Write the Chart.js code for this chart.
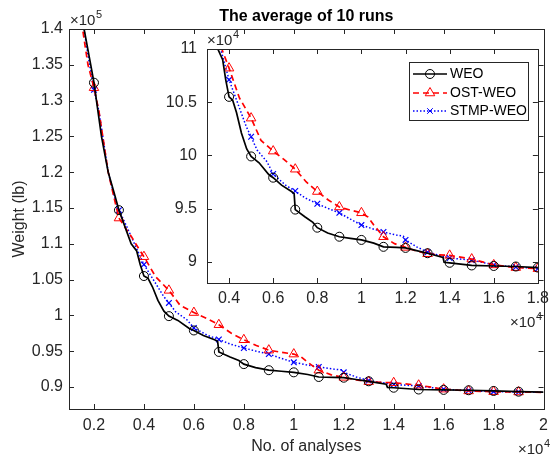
<!DOCTYPE html>
<html>
<head>
<meta charset="utf-8">
<script src="https://cdn.jsdelivr.net/npm/chart.js@4.4.1/dist/chart.umd.min.js"></script>
<style>
  html, body { margin: 0; padding: 0; background: #fff; }
  #wrap { position: relative; width: 555px; height: 461px; }
  #wrap canvas { position: absolute; left: 0; top: 0; }
</style>
</head>
<body>
<div id="wrap">
  <canvas id="chart-main" width="555" height="461"></canvas>
  <canvas id="chart-inset" width="555" height="461"></canvas>
</div>
<script>
// values (x = number of analyses, y = weight in lb)
const WEO_X = [1550, 1870, 2000, 2100, 2300, 2570, 2800, 3000, 3250, 3490, 3710, 3850, 4000, 4160, 4340, 4560, 4800, 5000, 5360, 5800, 6000, 6380, 6830, 6950, 7000, 7450, 7800, 8000, 8470, 9000, 9500, 10000, 10560, 11000, 11590, 12000, 12500, 13000, 13700, 13750, 14000, 15000, 16000, 17000, 18000, 19000, 20000];
const WEO_Y = [141000, 135000, 132500, 130000, 125000, 120000, 117200, 114700, 112300, 110000, 109000, 107100, 105500, 105200, 104000, 102100, 100600, 99900, 99300, 98200, 97900, 97200, 96600, 96400, 94900, 94200, 93700, 93200, 92700, 92350, 92200, 92050, 91750, 91400, 91350, 91300, 91050, 90800, 90400, 89950, 89900, 89650, 89600, 89550, 89450, 89350, 89300];

const OST_X = [1500, 1760, 2000, 2200, 2570, 2800, 3000, 3300, 3500, 3670, 4000, 4470, 5000, 5450, 6000, 6500, 7000, 7500, 8000, 8500, 9000, 9500, 10000, 10300, 10560, 11000, 11500, 12000, 12500, 13000, 13500, 14000, 15000, 16000, 17000, 18000, 19000, 20000];
const OST_Y = [141000, 135000, 131800, 128500, 120000, 116500, 113600, 112000, 111000, 110000, 108200, 105400, 103500, 101400, 100400, 99600, 98700, 97500, 96600, 95800, 95150, 94850, 94600, 94200, 93450, 92350, 91700, 91350, 91000, 90750, 90650, 90600, 90250, 89700, 89450, 89350, 89300, 89250];

const STMP_X = [1550, 1800, 2000, 2200, 2570, 2800, 3000, 3300, 3620, 4000, 4340, 4780, 5000, 5270, 5720, 6000, 6560, 7000, 7450, 8000, 8500, 9000, 9500, 10000, 10500, 11000, 11590, 11900, 12000, 12500, 13000, 14000, 15000, 16000, 17000, 18000, 19000, 20000];
const STMP_Y = [141000, 135500, 131500, 128500, 120000, 116800, 114700, 112500, 110000, 107100, 105200, 102700, 101750, 100500, 99400, 98250, 97200, 96650, 96000, 95450, 95000, 94600, 94000, 93450, 93100, 92800, 92500, 92400, 92050, 91400, 90900, 90350, 90150, 89700, 89500, 89350, 89300, 89250];

// x positions that carry a marker
const MARKER_X = [2000, 3000, 4000, 5000, 6000, 7000, 8000, 9000, 10000, 11000, 12000, 13000, 14000, 15000, 16000, 17000, 18000, 19000];

// tick values
const MAIN_X_TICKS = [2000, 4000, 6000, 8000, 10000, 12000, 14000, 16000, 18000, 20000];
const MAIN_Y_TICKS = [90000, 95000, 100000, 105000, 110000, 115000, 120000, 125000, 130000, 135000, 140000];
const INSET_X_TICKS = [4000, 6000, 8000, 10000, 12000, 14000, 16000, 18000];
const INSET_Y_TICKS = [90000, 95000, 100000, 105000, 110000];

const AXIS = "#262626";
const FONT = "'Liberation Sans', Arial, Helvetica, sans-serif";

const fmt = (v) => String(+v.toFixed(2));
const pts = (xs, ys) => xs.map((x, i) => ({ x, y: ys[i] }));
const markerR = (r) => (ctx) => (ctx.raw && MARKER_X.includes(ctx.raw.x) ? r : 0);

function makeDatasets() {
  return [
    {
      label: "WEO",
      data: pts(WEO_X, WEO_Y),
      borderColor: "#000000",
      borderWidth: 1.7,
      pointStyle: "circle",
      pointRadius: markerR(4.5),
      pointBorderColor: "#000000",
      pointBackgroundColor: "rgba(0,0,0,0)",
      pointBorderWidth: 1,
      tension: 0,
    },
    {
      label: "OST-WEO",
      data: pts(OST_X, OST_Y),
      borderColor: "#ff0000",
      borderWidth: 1.7,
      borderDash: [6, 4],
      pointStyle: "triangle",
      pointRadius: markerR(5.5),
      pointBorderColor: "#ff0000",
      pointBackgroundColor: "rgba(0,0,0,0)",
      pointBorderWidth: 1,
      tension: 0,
    },
    {
      label: "STMP-WEO",
      data: pts(STMP_X, STMP_Y),
      borderColor: "#0000ff",
      borderWidth: 1.5,
      borderDash: [1.5, 2],
      pointStyle: "crossRot",
      pointRadius: markerR(4),
      pointBorderColor: "#0000ff",
      pointBackgroundColor: "rgba(0,0,0,0)",
      pointBorderWidth: 1.2,
      tension: 0,
    },
  ];
}

// axes box with inward tick marks (MATLAB look)
const frame = {
  id: "frame",
  beforeDatasetsDraw(chart, args, opts) {
    if (!opts.fill) return;
    const { ctx, chartArea: a } = chart;
    ctx.save();
    ctx.fillStyle = "#ffffff";
    ctx.fillRect(a.left, a.top, a.right - a.left, a.bottom - a.top);
    ctx.restore();
  },
  afterDatasetsDraw(chart) {
    const { ctx, chartArea: a, scales } = chart;
    const len = 5;
    ctx.save();
    ctx.strokeStyle = AXIS;
    ctx.lineWidth = 1;
    ctx.beginPath();
    scales.x.ticks.forEach((t) => {
      const px = Math.round(scales.x.getPixelForValue(t.value)) + 0.5;
      ctx.moveTo(px, a.bottom); ctx.lineTo(px, a.bottom - len);
      ctx.moveTo(px, a.top); ctx.lineTo(px, a.top + len);
    });
    scales.y.ticks.forEach((t) => {
      const py = Math.round(scales.y.getPixelForValue(t.value)) + 0.5;
      ctx.moveTo(a.left, py); ctx.lineTo(a.left + len, py);
      ctx.moveTo(a.right, py); ctx.lineTo(a.right - len, py);
    });
    ctx.stroke();
    ctx.strokeRect(Math.round(a.left) + 0.5, Math.round(a.top) + 0.5, Math.round(a.right - a.left), Math.round(a.bottom - a.top));
    ctx.restore();
  },
};

// "×10^n" exponent labels
function drawExp(ctx, x, y, n) {
  ctx.font = `15px ${FONT}`;
  ctx.fillStyle = AXIS;
  ctx.textAlign = "left";
  ctx.textBaseline = "alphabetic";
  ctx.fillText("\u00d710", x, y);
  const w = ctx.measureText("\u00d710").width;
  ctx.font = `11px ${FONT}`;
  ctx.fillText(n, x + w + 0.5, y - 7);
}

const mainTexts = {
  id: "mainTexts",
  afterDraw(chart) {
    const { ctx, chartArea: a } = chart;
    ctx.save();
    ctx.fillStyle = "#000";
    ctx.font = `bold 16px ${FONT}`;
    ctx.textAlign = "center";
    ctx.textBaseline = "middle";
    ctx.fillText("The average of 10 runs", (a.left + a.right) / 2, 17);

    ctx.fillStyle = AXIS;
    ctx.font = `16px ${FONT}`;
    ctx.fillText("No. of analyses", (a.left + a.right) / 2, 447);

    ctx.translate(20, (a.top + a.bottom) / 2);
    ctx.rotate(-Math.PI / 2);
    ctx.fillText("Weight (lb)", 0, 0);
    ctx.restore();

    ctx.save();
    drawExp(ctx, 70, 25, "5");
    drawExp(ctx, 518, 454, "4");
    ctx.restore();
  },
};

function drawMarker(ctx, style, x, y, color) {
  ctx.strokeStyle = color;
  ctx.lineWidth = 1;
  ctx.setLineDash([]);
  ctx.beginPath();
  if (style === "circle") {
    ctx.arc(x, y, 4.5, 0, Math.PI * 2);
  } else if (style === "triangle") {
    const r = 5.5;
    ctx.moveTo(x, y - r);
    ctx.lineTo(x + r * 0.866, y + r * 0.5);
    ctx.lineTo(x - r * 0.866, y + r * 0.5);
    ctx.closePath();
  } else {
    const r = 2.8;
    ctx.moveTo(x - r, y - r); ctx.lineTo(x + r, y + r);
    ctx.moveTo(x + r, y - r); ctx.lineTo(x - r, y + r);
  }
  ctx.stroke();
}

const insetTexts = {
  id: "insetTexts",
  afterDraw(chart) {
    const { ctx } = chart;
    ctx.save();
    drawExp(ctx, 207, 45, "4");
    drawExp(ctx, 510, 327, "4");

    // legend box
    ctx.fillStyle = "#ffffff";
    ctx.fillRect(409.5, 62.5, 119, 58);
    ctx.strokeStyle = AXIS;
    ctx.lineWidth = 1;
    ctx.strokeRect(409.5, 62.5, 119, 58);

    const items = [
      { label: "WEO", color: "#000000", dash: [], style: "circle", y: 74 },
      { label: "OST-WEO", color: "#ff0000", dash: [6, 4], style: "triangle", y: 93 },
      { label: "STMP-WEO", color: "#0000ff", dash: [1.5, 2], style: "crossRot", y: 111 },
    ];
    items.forEach((it) => {
      ctx.strokeStyle = it.color;
      ctx.lineWidth = 1.5;
      ctx.setLineDash(it.dash);
      ctx.beginPath();
      ctx.moveTo(413, it.y);
      ctx.lineTo(447, it.y);
      ctx.stroke();
      drawMarker(ctx, it.style, 430, it.y, it.color);
      ctx.fillStyle = "#000";
      ctx.font = `14px ${FONT}`;
      ctx.textAlign = "left";
      ctx.textBaseline = "middle";
      ctx.fillText(it.label, 450, it.y);
    });
    ctx.restore();
  },
};

function axisOpts(min, max, tickVals, div, opts) {
  return {
    type: "linear",
    min,
    max,
    afterBuildTicks: (s) => { s.ticks = tickVals.map((v) => ({ value: v })); },
    afterFit: opts.fit,
    grid: { display: false, drawTicks: false },
    border: { display: false },
    ticks: {
      color: AXIS,
      font: { family: FONT, size: opts.size },
      padding: opts.pad,
      maxRotation: 0,
      autoSkip: false,
      callback: (v) => fmt(v / div),
    },
  };
}

const common = {
  responsive: false,
  animation: false,
  devicePixelRatio: 1,
  plugins: { legend: { display: false }, tooltip: { enabled: false } },
};

new Chart(document.getElementById("chart-main"), {
  type: "line",
  data: { datasets: makeDatasets() },
  plugins: [frame, mainTexts],
  options: {
    ...common,
    layout: { padding: { top: 29, right: 2, left: 0, bottom: 0 } },
    plugins: { ...common.plugins, frame: { fill: false } },
    scales: {
      x: axisOpts(1000, 20000, MAIN_X_TICKS, 1e4, { size: 16, pad: 7, fit: (s) => { s.height = 52; } }),
      y: axisOpts(86930, 140000, MAIN_Y_TICKS, 1e5, { size: 16, pad: 6, fit: (s) => { s.width = 69; } }),
    },
  },
});

new Chart(document.getElementById("chart-inset"), {
  type: "line",
  data: { datasets: makeDatasets() },
  plugins: [frame, insetTexts],
  options: {
    ...common,
    layout: { padding: { top: 49, right: 11, left: 157, bottom: 138 } },
    plugins: { ...common.plugins, frame: { fill: true } },
    scales: {
      x: axisOpts(3000, 18000, INSET_X_TICKS, 1e4, { size: 16, pad: 6, fit: (s) => { s.height = 40; } }),
      y: axisOpts(88000, 110000, INSET_Y_TICKS, 1e4, { size: 16, pad: 10, fit: (s) => { s.width = 50; } }),
    },
  },
});
</script>
</body>
</html>
